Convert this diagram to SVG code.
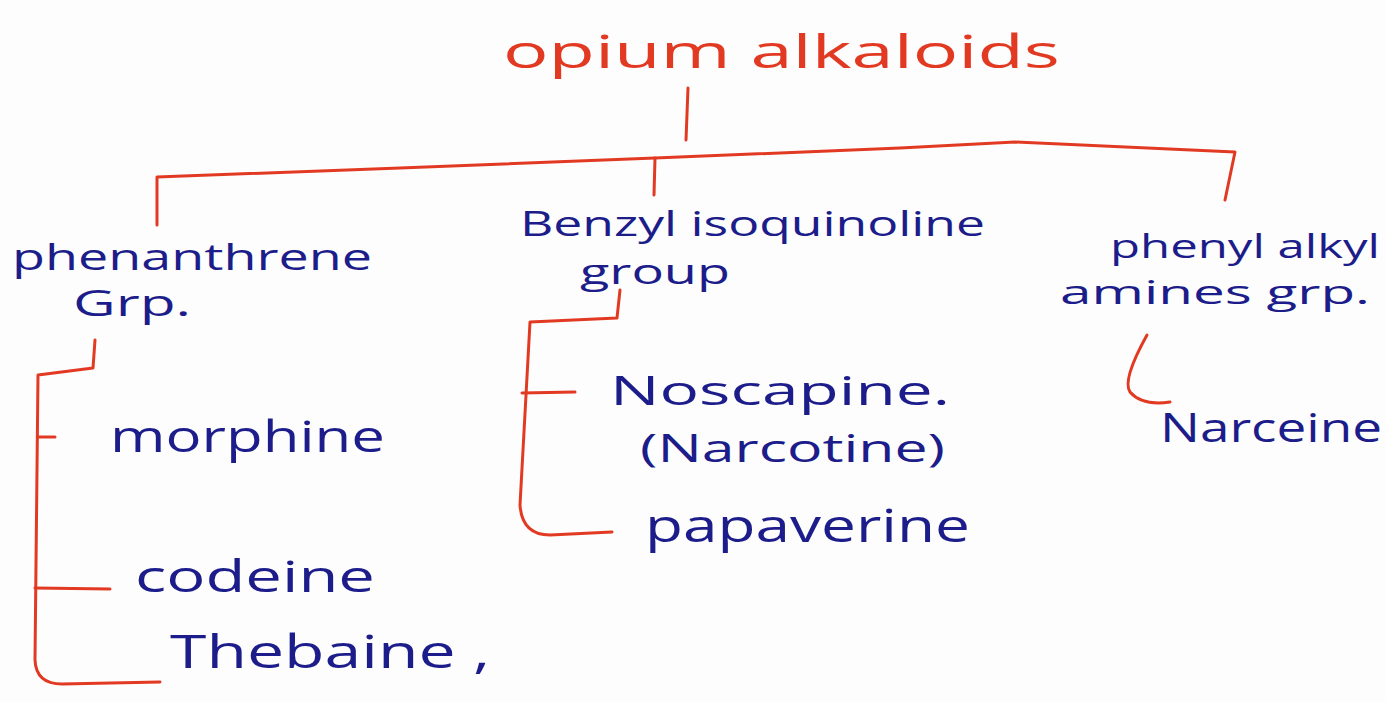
<svg xmlns="http://www.w3.org/2000/svg" width="1385" height="702" viewBox="0 0 1385 702">
<style>
.t{font-family:"Open Sans","Liberation Sans",sans-serif;fill:#1c1d8a}
.r{font-family:"Open Sans","Liberation Sans",sans-serif;fill:#e23a22}
.c{fill:none;stroke:#e23a22;stroke-width:3;stroke-linecap:round;stroke-linejoin:round}
</style>
<rect width="1385" height="702" fill="#fdfdfd"/>
<g id="connectors">
<path class="c" d="M688,88 L686,140"/>
<path class="c" d="M157,225 L157,177 L400,168 L655,158 L900,148 L1015,142 L1235,152 L1225,200"/>
<path class="c" d="M655,158 L654,195"/>
<path class="c" d="M95,340 L93,368 L38,375 L35,660 Q36,684 62,684 L160,682"/>
<path class="c" d="M38,437 L55,437"/>
<path class="c" d="M35,588 L110,589"/>
<path class="c" d="M620,290 L617,318 L530,322 L520,505 Q522,535 550,535 L612,532"/>
<path class="c" d="M522,393 L575,392"/>
<path class="c" d="M1147,335 Q1122,380 1130,392 Q1142,406 1170,402"/>
</g>
<g id="root"><text class="r" x="503" y="68" font-size="46" textLength="557" lengthAdjust="spacingAndGlyphs">opium alkaloids</text></g>
<g id="phenanthrene"><text class="t" x="12" y="270" font-size="36" textLength="360" lengthAdjust="spacingAndGlyphs">phenanthrene</text><text class="t" x="73" y="316" font-size="36" textLength="118" lengthAdjust="spacingAndGlyphs">Grp.</text></g>
<g id="benzyl"><text class="t" x="520" y="236" font-size="34" textLength="465" lengthAdjust="spacingAndGlyphs">Benzyl isoquinoline</text><text class="t" x="580" y="284" font-size="34" textLength="150" lengthAdjust="spacingAndGlyphs">group</text></g>
<g id="phenylalkyl"><text class="t" x="1110" y="258" font-size="32" textLength="270" lengthAdjust="spacingAndGlyphs">phenyl alkyl</text><text class="t" x="1060" y="304" font-size="32" textLength="310" lengthAdjust="spacingAndGlyphs">amines grp.</text></g>
<g id="morphine"><text class="t" x="110" y="452" font-size="44" textLength="275" lengthAdjust="spacingAndGlyphs">morphine</text></g>
<g id="codeine"><text class="t" x="135" y="592" font-size="44" textLength="240" lengthAdjust="spacingAndGlyphs">codeine</text></g>
<g id="thebaine"><text class="t" x="170" y="668" font-size="46" textLength="320" lengthAdjust="spacingAndGlyphs">Thebaine ,</text></g>
<g id="noscapine"><text class="t" x="610" y="405" font-size="40" textLength="340" lengthAdjust="spacingAndGlyphs">Noscapine.</text><text class="t" x="640" y="462" font-size="38" textLength="305" lengthAdjust="spacingAndGlyphs">(Narcotine)</text></g>
<g id="papaverine"><text class="t" x="645" y="542" font-size="46" textLength="325" lengthAdjust="spacingAndGlyphs">papaverine</text></g>
<g id="narceine"><text class="t" x="1160" y="442" font-size="40" textLength="222" lengthAdjust="spacingAndGlyphs">Narceine</text></g>
</svg>
